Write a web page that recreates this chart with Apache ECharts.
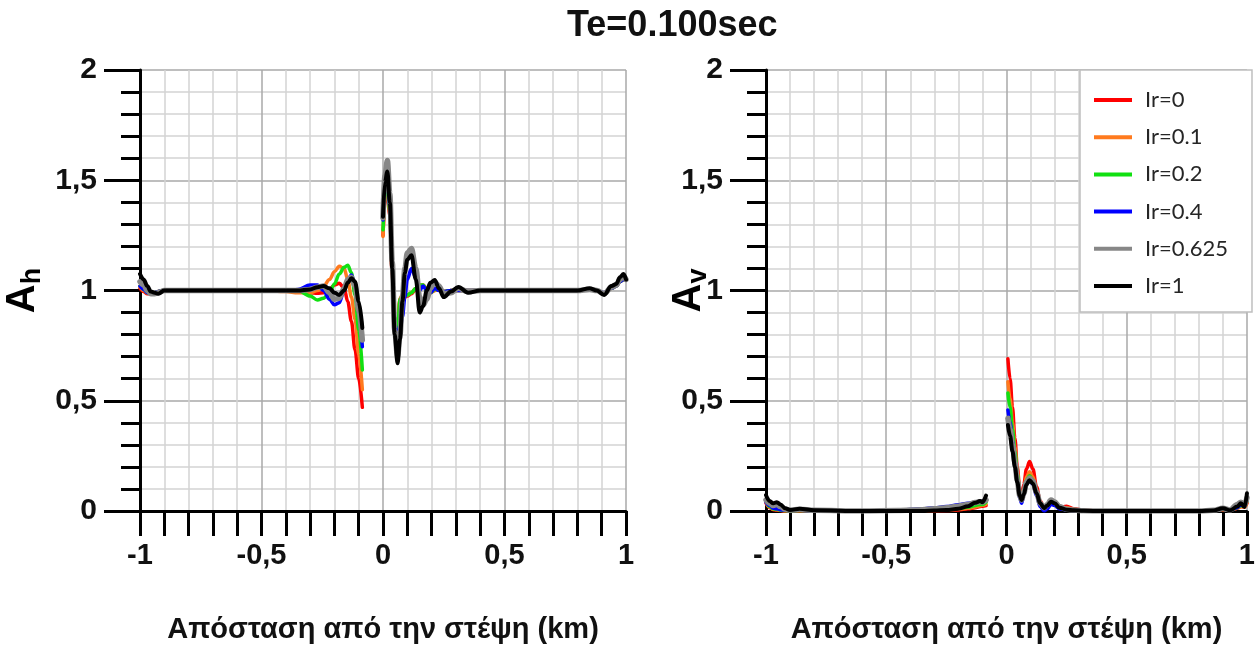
<!DOCTYPE html>
<html>
<head>
<meta charset="utf-8">
<script src="https://cdn.jsdelivr.net/npm/echarts@6/dist/echarts.min.js"></script>
<style>
  html, body { margin: 0; padding: 0; background: #fff; }
  #chart { width: 1258px; height: 651px; }
</style>
</head>
<body>
<div id="chart"></div>
<script>
// Series names and colours (Ir values)
const irNames = ['Ir=0', 'Ir=0.1', 'Ir=0.2', 'Ir=0.4', 'Ir=0.625', 'Ir=1'];
const irColors = ['#ff0000', '#ff7a1e', '#11e011', '#0000ff', '#878787', '#000000'];
const irWidths = [3.5, 3.5, 3.5, 3.5, 5.5, 4];

// Horizontal amplification Ah — left part (x < 0)
const ahX1 = [-1, -0.985, -0.97, -0.955, -0.94, -0.925, -0.9, -0.85, -0.7, -0.5, -0.4, -0.35, -0.3, -0.27, -0.245, -0.22, -0.2, -0.18, -0.16, -0.145, -0.13, -0.115, -0.1, -0.085];
const ahL_0    = [1.01, 0.995, 0.985, 0.985, 0.99, 0.995, 1.0, 1.0, 1.0, 1.0, 1.0, 0.995, 0.99, 0.988, 0.99, 1.005, 1.025, 1.033, 1.01, 0.95, 0.86, 0.73, 0.6, 0.47];
const ahL_01   = [1.02, 1.0, 0.99, 0.985, 0.99, 0.995, 1.0, 1.0, 1.0, 1.0, 0.995, 0.99, 0.99, 1.0, 1.02, 1.05, 1.085, 1.11, 1.1, 1.05, 0.97, 0.87, 0.71, 0.55];
const ahL_02   = [1.02, 1.005, 0.99, 0.985, 0.99, 0.995, 1.0, 1.0, 1.0, 1.0, 1.0, 1.0, 0.975, 0.957, 0.965, 0.99, 1.03, 1.075, 1.105, 1.115, 1.08, 0.98, 0.82, 0.64];
const ahL_04   = [1.02, 1.005, 0.99, 0.985, 0.99, 0.995, 1.0, 1.0, 1.0, 1.0, 1.0, 1.005, 1.025, 1.025, 1.0, 0.96, 0.935, 0.945, 1.0, 1.05, 1.07, 1.03, 0.9, 0.745];
const ahL_0625 = [1.04, 1.025, 1.0, 0.985, 0.985, 0.99, 1.0, 1.0, 1.0, 1.0, 1.0, 1.0, 1.005, 1.015, 1.02, 0.99, 0.96, 0.965, 1.01, 1.05, 1.06, 1.02, 0.91, 0.775];
const ahL_1    = [1.075, 1.05, 1.02, 0.995, 0.99, 0.985, 1.0, 1.0, 1.0, 1.0, 1.0, 1.0, 1.005, 1.015, 1.02, 1.01, 0.99, 0.98, 1.0, 1.035, 1.055, 1.04, 0.95, 0.83];

// Horizontal amplification Ah — right part (x > 0)
const ahX2 = [0, 0.008, 0.018, 0.028, 0.038, 0.048, 0.06, 0.07, 0.08, 0.09, 0.1, 0.117, 0.135, 0.151, 0.165, 0.18, 0.195, 0.213, 0.23, 0.25, 0.28, 0.31, 0.35, 0.4, 0.5, 0.6, 0.7, 0.8, 0.85, 0.88, 0.91, 0.94, 0.96, 0.975, 0.99, 1.0];
const ahR_0    = [1.25, 1.4, 1.46, 1.34, 1.07, 0.86, 0.82, 0.96, 0.975, 0.97, 0.975, 0.985, 1.005, 1.02, 1.025, 1.005, 0.99, 1.0, 1.005, 0.995, 1.0, 1.0, 1.0, 1.0, 1.0, 1.0, 1.0, 1.0, 1.005, 1.0, 0.985, 1.01, 1.02, 1.04, 1.05, 1.05];
const ahR_01   = [1.245, 1.41, 1.47, 1.35, 1.08, 0.87, 0.82, 0.965, 0.98, 0.975, 0.98, 0.99, 1.01, 1.025, 1.025, 1.005, 0.99, 1.0, 1.005, 0.995, 1.0, 1.0, 1.0, 1.0, 1.0, 1.0, 1.0, 1.0, 1.005, 1.0, 0.985, 1.01, 1.02, 1.04, 1.05, 1.05];
const ahR_02   = [1.275, 1.43, 1.48, 1.36, 1.1, 0.88, 0.82, 0.96, 0.975, 0.975, 0.98, 0.99, 1.01, 1.025, 1.025, 1.0, 0.99, 1.005, 1.005, 0.995, 1.0, 1.0, 1.0, 1.0, 1.0, 1.0, 1.0, 1.0, 1.005, 1.0, 0.985, 1.01, 1.02, 1.04, 1.05, 1.05];
const ahR_04   = [1.32, 1.46, 1.5, 1.38, 1.1, 0.85, 0.8, 0.82, 0.88, 0.97, 1.05, 1.1, 1.06, 1.0, 1.02, 1.0, 0.99, 1.01, 1.0, 0.995, 1.0, 1.0, 1.0, 1.0, 1.0, 1.0, 1.0, 1.0, 1.005, 1.0, 0.99, 1.01, 1.02, 1.04, 1.05, 1.05];
const ahR_0625 = [1.33, 1.52, 1.59, 1.44, 1.13, 0.82, 0.7, 0.8, 0.97, 1.1, 1.17, 1.19, 1.1, 0.97, 0.935, 0.96, 1.01, 1.04, 1.02, 0.985, 0.99, 1.01, 0.995, 1.0, 1.0, 1.0, 1.0, 1.0, 1.005, 1.0, 0.985, 1.015, 1.025, 1.05, 1.065, 1.05];
const ahR_1    = [1.335, 1.49, 1.54, 1.4, 1.1, 0.8, 0.67, 0.78, 0.95, 1.08, 1.14, 1.16, 1.05, 0.9, 0.93, 1.0, 1.035, 1.048, 1.01, 0.97, 0.995, 1.016, 0.99, 1.0, 1.0, 1.0, 1.0, 1.0, 1.01, 1.0, 0.98, 1.02, 1.03, 1.06, 1.075, 1.05];

// Vertical amplification Av — left part (x < 0)
const avX1 = [-1, -0.985, -0.97, -0.955, -0.94, -0.92, -0.9, -0.86, -0.8, -0.6, -0.45, -0.35, -0.3, -0.25, -0.2, -0.16, -0.13, -0.11, -0.1, -0.085];
const avL_0    = [0.035, 0.015, 0.006, 0.004, 0.002, 0.0, 0.0, 0.0, 0.0, 0.0, 0.0, 0.0, 0.0, 0.002, 0.005, 0.01, 0.015, 0.02, 0.022, 0.025];
const avL_01   = [0.04, 0.018, 0.008, 0.006, 0.003, 0.0, 0.0, 0.0, 0.0, 0.0, 0.0, 0.0, 0.002, 0.004, 0.008, 0.012, 0.018, 0.024, 0.026, 0.03];
const avL_02   = [0.045, 0.02, 0.01, 0.008, 0.004, 0.002, 0.0, 0.002, 0.0, 0.0, 0.0, 0.002, 0.004, 0.008, 0.012, 0.018, 0.025, 0.03, 0.03, 0.04];
const avL_04   = [0.04, 0.025, 0.012, 0.01, 0.006, 0.003, 0.002, 0.003, 0.0, 0.0, 0.004, 0.01, 0.015, 0.02, 0.028, 0.035, 0.04, 0.043, 0.045, 0.045];
const avL_0625 = [0.05, 0.035, 0.025, 0.03, 0.02, 0.008, 0.004, 0.008, 0.003, 0.0, 0.002, 0.006, 0.01, 0.015, 0.022, 0.03, 0.038, 0.042, 0.04, 0.05];
const avL_1    = [0.072, 0.045, 0.035, 0.04, 0.03, 0.012, 0.005, 0.01, 0.003, 0.0, 0.0, 0.0, 0.002, 0.004, 0.01, 0.022, 0.037, 0.045, 0.04, 0.07];

// Vertical amplification Av — right part (x > 0)
const avX2 = [0.006, 0.015, 0.025, 0.035, 0.045, 0.055, 0.063, 0.072, 0.083, 0.096, 0.11, 0.125, 0.14, 0.157, 0.17, 0.185, 0.2, 0.22, 0.25, 0.28, 0.32, 0.4, 0.6, 0.8, 0.86, 0.9, 0.93, 0.96, 0.975, 0.99, 1.0];
const avR_0    = [0.69, 0.6, 0.47, 0.33, 0.2, 0.1, 0.065, 0.12, 0.19, 0.224, 0.19, 0.11, 0.045, 0.015, 0.02, 0.035, 0.03, 0.015, 0.022, 0.01, 0.003, 0.0, 0.0, 0.0, 0.002, 0.006, 0.004, 0.012, 0.02, 0.018, 0.035];
const avR_01   = [0.586, 0.51, 0.4, 0.29, 0.18, 0.09, 0.06, 0.1, 0.155, 0.178, 0.155, 0.095, 0.04, 0.013, 0.02, 0.038, 0.032, 0.015, 0.015, 0.008, 0.002, 0.0, 0.0, 0.0, 0.002, 0.006, 0.004, 0.012, 0.02, 0.018, 0.04];
const avR_02   = [0.535, 0.47, 0.37, 0.27, 0.17, 0.08, 0.05, 0.09, 0.14, 0.16, 0.14, 0.085, 0.035, 0.01, 0.02, 0.04, 0.032, 0.012, 0.01, 0.005, 0.001, 0.0, 0.0, 0.0, 0.002, 0.008, 0.004, 0.015, 0.025, 0.02, 0.045];
const avR_04   = [0.458, 0.4, 0.32, 0.23, 0.14, 0.06, 0.035, 0.07, 0.12, 0.14, 0.12, 0.07, 0.02, 0.0, 0.01, 0.03, 0.025, 0.01, 0.005, 0.002, 0.0, 0.0, 0.0, 0.0, 0.002, 0.008, 0.004, 0.015, 0.028, 0.022, 0.05];
const avR_0625 = [0.42, 0.37, 0.3, 0.22, 0.14, 0.07, 0.05, 0.08, 0.13, 0.15, 0.135, 0.085, 0.035, 0.015, 0.03, 0.05, 0.042, 0.02, 0.008, 0.004, 0.001, 0.0, 0.0, 0.0, 0.003, 0.012, 0.005, 0.03, 0.04, 0.03, 0.06];
const avR_1    = [0.39, 0.34, 0.27, 0.2, 0.13, 0.07, 0.05, 0.075, 0.12, 0.14, 0.125, 0.08, 0.035, 0.013, 0.025, 0.042, 0.035, 0.015, 0.006, 0.003, 0.001, 0.0, 0.0, 0.0, 0.002, 0.013, 0.003, 0.02, 0.035, 0.018, 0.08];

const ahLeft  = [ahL_0, ahL_01, ahL_02, ahL_04, ahL_0625, ahL_1];
const ahRight = [ahR_0, ahR_01, ahR_02, ahR_04, ahR_0625, ahR_1];
const avLeft  = [avL_0, avL_01, avL_02, avL_04, avL_0625, avL_1];
const avRight = [avR_0, avR_01, avR_02, avR_04, avR_0625, avR_1];

const titleText = 'Te=0.100sec';
const xAxisTitle = 'Απόσταση από την στέψη (km)';

const FONT = '"Liberation Sans", Arial, sans-serif';
const INK = '#111';

// Two segments joined by a break point (the gap around the crest)
function joinSegments(x1, y1, x2, y2) {
  const a = x1.map((x, i) => [x, y1[i]]);
  const b = x2.map((x, i) => [x, y2[i]]);
  return a.concat([[-0.04, null]], b);
}

const commaFmt = v => String(Math.round(v * 10) / 10).replace('.', ',');

function makeXAxis(gridIndex) {
  return {
    type: 'value', gridIndex, min: -1, max: 1, interval: 0.5,
    name: xAxisTitle, nameLocation: 'middle', nameGap: 104, nameMoveOverlap: false,
    nameTextStyle: { fontFamily: FONT, fontWeight: 'bold', fontSize: 29, color: INK },
    axisLine: { show: true, onZero: false, lineStyle: { color: '#000', width: 3 } },
    axisTick: { show: true, inside: false, length: 25, lineStyle: { color: '#000', width: 3 } },
    minorTick: { show: true, splitNumber: 5, length: 25, lineStyle: { color: '#000', width: 3 } },
    axisLabel: { margin: 30, fontFamily: FONT, fontWeight: 'bold', fontSize: 29, color: INK, formatter: commaFmt },
    splitLine: { show: true, lineStyle: { color: '#a8a8a8', width: 1.5 } },
    minorSplitLine: { show: true, lineStyle: { color: '#d3d3d3', width: 1.5 } }
  };
}

function makeYAxis(gridIndex, main, sub, gap) {
  return {
    type: 'value', gridIndex, min: 0, max: 2, interval: 0.5,
    name: '{a|' + main + '}{b|' + sub + '}', nameLocation: 'middle', nameGap: gap, nameMoveOverlap: false,
    nameTextStyle: {
      rich: {
        a: { fontFamily: FONT, fontWeight: 'bold', fontSize: 40, color: '#000', lineHeight: 46 },
        b: { fontFamily: FONT, fontWeight: 'bold', fontSize: 27, color: '#000', verticalAlign: 'bottom', lineHeight: 46, padding: [14, 0, 0, 0] }
      }
    },
    axisLine: { show: true, onZero: false, lineStyle: { color: '#000', width: 3 } },
    axisTick: { show: true, inside: false, length: 36, lineStyle: { color: '#000', width: 3 } },
    minorTick: { show: true, splitNumber: 5, length: 19, lineStyle: { color: '#000', width: 3 } },
    axisLabel: { margin: 43, fontFamily: FONT, fontWeight: 'bold', fontSize: 30, color: INK, formatter: commaFmt },
    splitLine: { show: true, lineStyle: { color: '#a8a8a8', width: 1.5 } },
    minorSplitLine: { show: true, lineStyle: { color: '#d3d3d3', width: 1.5 } }
  };
}

const series = [];
irNames.forEach((name, k) => {
  const common = {
    name, type: 'line', symbol: 'none', smooth: 0.35, smoothMonotone: 'x',
    connectNulls: false,
    lineStyle: { color: irColors[k], width: irWidths[k], cap: 'round', join: 'round' },
    itemStyle: { color: irColors[k] },
    emphasis: { disabled: true },
    z: 2 + k
  };
  series.push(Object.assign({}, common, {
    xAxisIndex: 0, yAxisIndex: 0,
    data: joinSegments(ahX1, ahLeft[k], ahX2, ahRight[k])
  }));
  series.push(Object.assign({}, common, {
    xAxisIndex: 1, yAxisIndex: 1,
    data: joinSegments(avX1, avLeft[k], avX2, avRight[k])
  }));
});

const chart = echarts.init(document.getElementById('chart'), null, { renderer: 'canvas' });
chart.setOption({
  backgroundColor: '#fff',
  animation: false,
  title: {
    text: titleText, left: 562, top: 3,
    textStyle: { fontFamily: FONT, fontWeight: 'bold', fontSize: 36, color: INK }
  },
  legend: {
    data: irNames.map((n, k) => ({ name: n, icon: 'rect', itemStyle: { color: irColors[k] } })),
    orient: 'vertical', left: 1080, top: 70,
    padding: [19, 24, 15, 14], itemGap: 15.2, itemWidth: 38, itemHeight: 4,
    backgroundColor: '#fff', borderColor: '#bfbfbf', borderWidth: 1.5,
    textStyle: { fontFamily: 'Lato, "Open Sans", sans-serif', fontSize: 22, lineHeight: 22, color: '#262626', padding: [0, 0, 0, 8] },
    z: 10
  },
  grid: [
    { left: 140, top: 70, width: 486, height: 441 },
    { left: 766, top: 70, width: 485, height: 441 }
  ],
  xAxis: [makeXAxis(0), makeXAxis(1)],
  yAxis: [makeYAxis(0, 'A', 'h', 94), makeYAxis(1, 'A', 'v', 54)],
  series
});
</script>
</body>
</html>
